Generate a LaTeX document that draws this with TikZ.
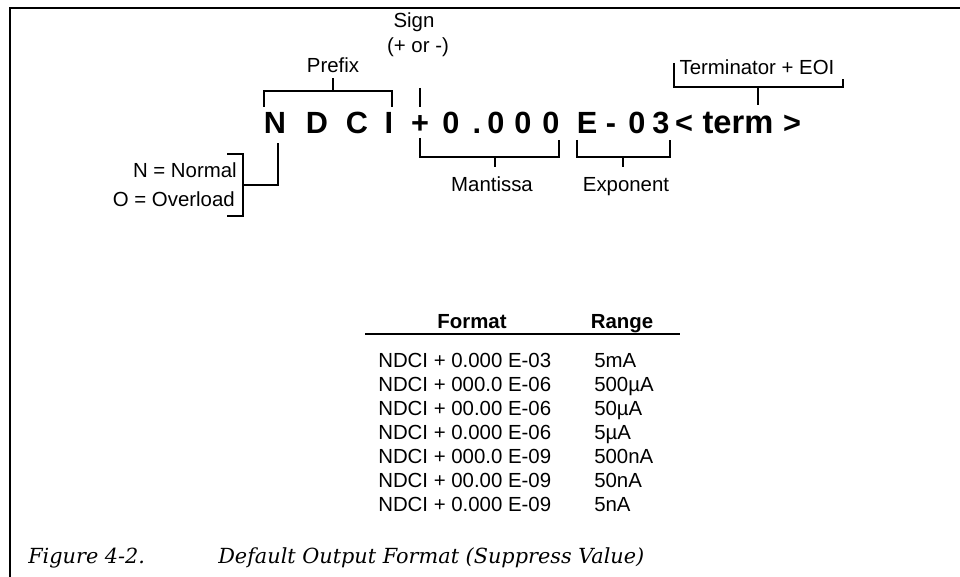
\documentclass[tikz,border=0pt]{standalone}
\usepackage{fontspec}
\setmainfont{Liberation Sans}
\newfontfamily\capfont{DejaVu Serif}
\begin{document}
\begin{tikzpicture}[x=0.75pt,y=-0.75pt,
  lbl/.style={inner sep=0pt, anchor=base, font=\fontsize{15.3}{18}\selectfont},
  big/.style={inner sep=0pt, anchor=base, font=\fontsize{23}{26}\selectfont\bfseries},
  brk/.style={line width=1.5pt},
  row/.style={inner sep=0pt, anchor=base west, font=\fontsize{15.3}{18}\selectfont},
  hdr/.style={inner sep=0pt, anchor=base, font=\fontsize{15.3}{18}\selectfont\bfseries},
  captext/.style={inner sep=0pt, anchor=base west, font=\fontsize{15.6}{18}\selectfont\capfont\itshape}]
\useasboundingbox (0,0) rectangle (960,577);
% frame
\draw[line width=2.2pt] (10,577) -- (10,8) -- (960,8);
% big format string
\foreach \c/\x/\n in {N/275/cN, D/317/cD, C/357/cC, I/389/cI, +/420/cPlus, 0/451/cA, ./477/cDot, 0/496/cB, 0/523/cC2, 0/551/cD2, E/587/cE, -/611/cMinus, 0/637/cE0, 3/661/cE3, </684/cLt, >/792/cGt}
  \node[big] (\n) at (\x,134) {\c};
\node[big, font=\fontsize{24.5}{28}\selectfont\bfseries] (cTerm) at (738,134) {term};
% labels
\node[lbl] (prefix) at (333,73) {Prefix};
\node[lbl] (sign) at (414,28) {Sign};
\node[lbl] (signpm) at (418,53) {(+ or -)};
\node[lbl] (term) at (757,75) {Terminator + EOI};
\node[lbl] (mant) at (492,192) {Mantissa};
\node[lbl] (expo) at (626,192) {Exponent};
\node[lbl, anchor=base east] (normal) at (237,178) {N = Normal};
\node[lbl, anchor=base east] (over) at (235,207) {O = Overload};
% brackets
\draw[brk] (264,107) -- (264,91) -- (392,91) -- (392,107);
\draw[brk] (333,91) -- (333,78);
\draw[brk] (420,88) -- (420,107);
\draw[brk] (420,138) -- (420,157) -- (559,157) -- (559,140);
\draw[brk] (495,157) -- (495,167);
\draw[brk] (577,140) -- (577,157) -- (670,157) -- (670,140);
\draw[brk] (623,157) -- (623,167);
\draw[brk] (674,63) -- (674,87) -- (843,87) -- (843,79);
\draw[brk] (758,87) -- (758,105);
\draw[brk] (227,154) -- (243,154) -- (243,216) -- (227,216);
\draw[brk] (243,185) -- (278,185) -- (278,143);
% table
\node[hdr] (hformat) at (472,328) {Format};
\node[hdr] (hrange) at (622,328) {Range};
\draw[line width=1.6pt] (365,334) -- (680,334);
\foreach \f/\r [count=\i from 0] in {NDCI + 0.000 E-03/5mA, NDCI + 000.0 E-06/500µA, NDCI + 00.00 E-06/50µA, NDCI + 0.000 E-06/5µA, NDCI + 000.0 E-09/500nA, NDCI + 00.00 E-09/50nA, NDCI + 0.000 E-09/5nA}{
  \node[row] (f\i) at (378,367+24*\i) {\f};
  \node[row] (r\i) at (594,367+24*\i) {\r};
}
% caption
\node[captext] (capA) at (28,563) {Figure 4-2.};
\node[captext] (capB) at (218,563) {Default Output Format (Suppress Value)};
\end{tikzpicture}
\end{document}
